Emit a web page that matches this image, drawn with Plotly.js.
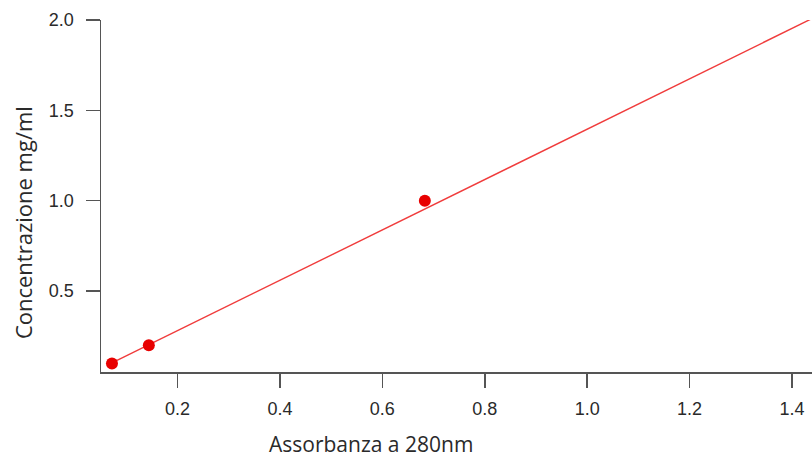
<!DOCTYPE html>
<html>
<head>
<meta charset="utf-8">
<script src="https://cdn.plot.ly/plotly-3.0.1.min.js"></script>
<style>html,body{margin:0;padding:0;background:#fff;}#chart{width:812px;height:460px;}</style>
</head>
<body>
<div id="chart"></div>
<script>
// Measured points
const absorbance = [0.072, 0.144, 0.683];
const concentration = [0.10, 0.20, 1.00];
// Fitted calibration line (endpoints)
const fitAbsorbance = [0.068, 1.439];
const fitConcentration = [0.097, 2.008];
// Axis ticks
const xTicks = [0.2, 0.4, 0.6, 0.8, 1.0, 1.2, 1.4];
const xTickLabels = ['0.2', '0.4', '0.6', '0.8', '1.0', '1.2', '1.4'];
const yTicks = [0.5, 1.0, 1.5, 2.0];
const yTickLabels = ['0.5', '1.0', '1.5', '2.0'];
const xTitle = 'Assorbanza a 280nm';
const yTitle = 'Concentrazione mg/ml';

const traces = [
  {
    x: fitAbsorbance, y: fitConcentration, mode: 'lines', type: 'scatter',
    line: {color: '#f03c3c', width: 1.4}, hoverinfo: 'skip'
  },
  {
    x: absorbance, y: concentration, mode: 'markers', type: 'scatter',
    marker: {color: '#e80000', size: 12}, cliponaxis: false
  }
];

const tickFont = {family: 'Liberation Sans, Arial, sans-serif', size: 18, color: '#2a2a2a'};
const titleFont = {family: 'Open Sans, sans-serif', size: 22, color: '#2a2a2a'};
const xTitleFont = {family: 'Open Sans, sans-serif', size: 21, color: '#2a2a2a'};

const layout = {
  width: 812, height: 460,
  margin: {l: 101, r: 0, t: 20, b: 88},
  showlegend: false,
  paper_bgcolor: '#fff', plot_bgcolor: '#fff',
  xaxis: {
    range: [0.0506, 1.439],
    tickvals: xTicks, ticktext: xTickLabels,
    ticks: 'outside', ticklen: 14, tickwidth: 1.5, tickcolor: '#555',
    showline: true, linecolor: '#555', linewidth: 1.5,
    showgrid: false, zeroline: false,
    tickfont: tickFont, ticklabelstandoff: 6
  },
  yaxis: {
    range: [0.0525, 2.0],
    tickvals: yTicks, ticktext: yTickLabels,
    ticks: 'outside', ticklen: 14, tickwidth: 1.5, tickcolor: '#555',
    showline: true, linecolor: '#555', linewidth: 1.5,
    showgrid: false, zeroline: false,
    tickfont: tickFont, ticklabelstandoff: 8
  },
  annotations: [
    {text: xTitle, xref: 'paper', yref: 'paper', x: 0.38, y: -0.205,
     xanchor: 'center', yanchor: 'middle', showarrow: false, font: xTitleFont, borderpad: 0},
    {text: yTitle, xref: 'paper', yref: 'paper', x: -0.1097, y: 0.423,
     xanchor: 'center', yanchor: 'middle', textangle: -90, showarrow: false, font: titleFont, borderpad: 0}
  ]
};

Plotly.newPlot('chart', traces, layout, {staticPlot: true, displayModeBar: false});
</script>
</body>
</html>
